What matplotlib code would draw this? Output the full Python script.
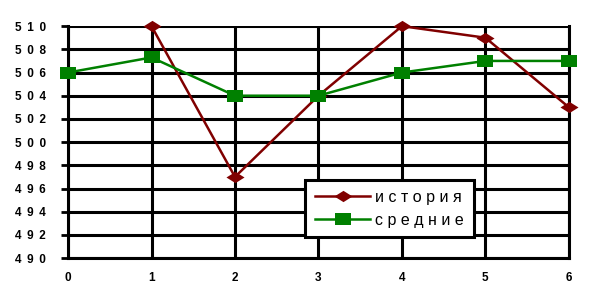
import numpy as np
import matplotlib.pyplot as plt
from matplotlib.path import Path

x_hist = [1, 2, 3, 4, 5, 6]
history = [510, 497, 504, 510, 509, 503]
x_avg = [0, 1, 2, 3, 4, 5, 6]
average = [506, 507.3, 504, 504, 506, 507, 507]
y_ticks = [490, 492, 494, 496, 498, 500, 502, 504, 506, 508, 510]
x_ticks = [0, 1, 2, 3, 4, 5, 6]

def spaced(v, sep=" "):
    return sep.join(str(v))

diamond = Path([(-1.6, 0), (0, 1), (1.6, 0), (0, -1), (-1.6, 0)],
               [Path.MOVETO, Path.LINETO, Path.LINETO, Path.LINETO, Path.CLOSEPOLY])
rect = Path([(-1.5, -1), (1.5, -1), (1.5, 1), (-1.5, 1), (-1.5, -1)],
            [Path.MOVETO, Path.LINETO, Path.LINETO, Path.LINETO, Path.CLOSEPOLY])

plt.rcParams['font.family'] = ['Liberation Sans', 'DejaVu Sans']

fig = plt.figure(figsize=(6.02, 2.97), dpi=100)
ax = fig.add_axes([0.113, 0.131, 0.832, 0.781])

ax.plot(x_hist, history, color='#800000', lw=1.8, marker=diamond,
        markersize=13, markeredgewidth=0, label=spaced('история'),
        zorder=3, clip_on=False)
ax.plot(x_avg, average, color='#008000', lw=1.8, marker=rect,
        markersize=12, markeredgewidth=0, label=spaced('средние'),
        zorder=4, clip_on=False)

ax.set_xlim(0, 6)
ax.set_ylim(490, 510)
ax.set_xticks(x_ticks)
ax.set_xticklabels(x_ticks)
ax.set_yticks(y_ticks)
ax.set_yticklabels([spaced(v, " \u2009") for v in y_ticks])
ax.grid(True, color='black', lw=2.2)
ax.set_axisbelow(True)
for s in ax.spines.values():
    s.set_linewidth(2.2)
ax.spines['top'].set_visible(False)
ax.tick_params(axis='y', length=5, width=2, pad=11, labelsize=8.5)
ax.tick_params(axis='x', length=0, pad=10, labelsize=8.5)
for lab in ax.get_xticklabels() + ax.get_yticklabels():
    lab.set_fontweight('bold')

leg = ax.legend(loc='upper left', bbox_to_anchor=(305/602, 1 - 180/297),
                bbox_transform=fig.transFigure, frameon=True, fancybox=False,
                framealpha=1, edgecolor='black', fontsize=11.5, handlelength=3.5,
                borderpad=0.6, labelspacing=0.5, handletextpad=0.3,
                borderaxespad=0)
leg.get_frame().set_linewidth(2.2)
leg.set_zorder(5)

fig.savefig('out.png', dpi=100)
